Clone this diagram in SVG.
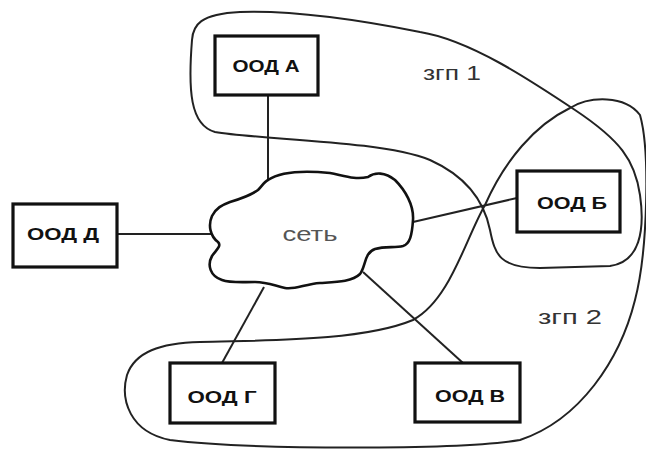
<svg xmlns="http://www.w3.org/2000/svg" width="646" height="452" viewBox="0 0 646 452">
<style>
.box{fill:#fff;stroke:#111;stroke-width:3.2}
.lbl{font-family:"Liberation Sans",Arial,sans-serif;font-weight:bold;font-size:16px;fill:#111;text-anchor:middle}
.con{stroke:#222;stroke-width:2;fill:none}
.grp{stroke:#222;stroke-width:2;fill:none}
.gl{font-family:"Liberation Sans",Arial,sans-serif;font-size:21px;fill:#333;text-anchor:middle}
</style>
<rect width="646" height="452" fill="#fff"/>
<g id="groups">
<path class="grp" d="M192,40 C188,90 190,125 215,132 C260,140 380,140 430,160 C470,178 485,205 490,230 C495,255 500,268 540,268 L610,266 C640,262 645,230 640,195 C635,160 620,140 575,110 C530,80 470,40 420,32 C370,22 300,10 240,12 C200,14 193,25 192,40 Z"/>
<path class="grp" d="M570,108 C590,96 625,95 640,115 C650,150 648,250 635,300 C620,360 580,420 520,440 C460,450 250,450 170,440 C130,432 120,400 127,375 C135,352 160,343 200,342 C260,340 360,342 413,320 C450,300 465,240 485,205 C505,160 535,125 570,108 Z"/>
<text class="gl" x="452" y="80" textLength="58" lengthAdjust="spacingAndGlyphs">згп 1</text>
<text class="gl" x="570" y="324" textLength="64" lengthAdjust="spacingAndGlyphs">згп 2</text>
</g>
<g id="connectors">
<line class="con" x1="268" y1="96" x2="268" y2="181"/>
<line class="con" x1="117" y1="234" x2="211" y2="234"/>
<line class="con" x1="413" y1="222" x2="517" y2="198"/>
<line class="con" x1="264" y1="287" x2="222" y2="363"/>
<line class="con" x1="363" y1="272" x2="463" y2="363"/>
</g>
<g id="net">
<path d="M268,180 C280,172 300,170 330,173 C345,176 355,180 368,177 C375,172 385,172 395,180 C405,190 414,205 413,220 C412,235 410,244 403,246 C395,248 385,246 375,249 C364,253 366,266 360,274 C352,282 335,282 320,283 C305,284 295,290 285,288 C275,286 268,282 255,282 C240,282 230,283 222,280 C210,276 207,265 212,256 C216,250 222,246 218,242 C210,236 208,225 212,216 C216,208 222,205 230,202 C240,199 250,196 258,190 C262,186 264,182 268,180 Z" fill="#fff" stroke="#111" stroke-width="2.6"/>
<text x="310" y="241" font-family="Liberation Sans,Arial,sans-serif" font-size="21" fill="#555" text-anchor="middle" textLength="55" lengthAdjust="spacingAndGlyphs">сеть</text>
</g>
<g id="oodA">
<rect class="box" x="215" y="36" width="103" height="59"/>
<text class="lbl" x="266" y="72" textLength="67" lengthAdjust="spacingAndGlyphs">ООД А</text>
</g>
<g id="oodD">
<rect class="box" x="13" y="204" width="104" height="63"/>
<text class="lbl" x="63" y="240" textLength="72" lengthAdjust="spacingAndGlyphs">ООД Д</text>
</g>
<g id="oodB">
<rect class="box" x="517" y="171" width="103" height="61"/>
<text class="lbl" x="572" y="209" textLength="70" lengthAdjust="spacingAndGlyphs">ООД Б</text>
</g>
<g id="oodG">
<rect class="box" x="170" y="363" width="105" height="60"/>
<text class="lbl" x="222" y="403" textLength="69" lengthAdjust="spacingAndGlyphs">ООД Г</text>
</g>
<g id="oodV">
<rect class="box" x="415" y="363" width="105" height="59"/>
<text class="lbl" x="470" y="402" textLength="70" lengthAdjust="spacingAndGlyphs">ООД В</text>
</g>
</svg>
